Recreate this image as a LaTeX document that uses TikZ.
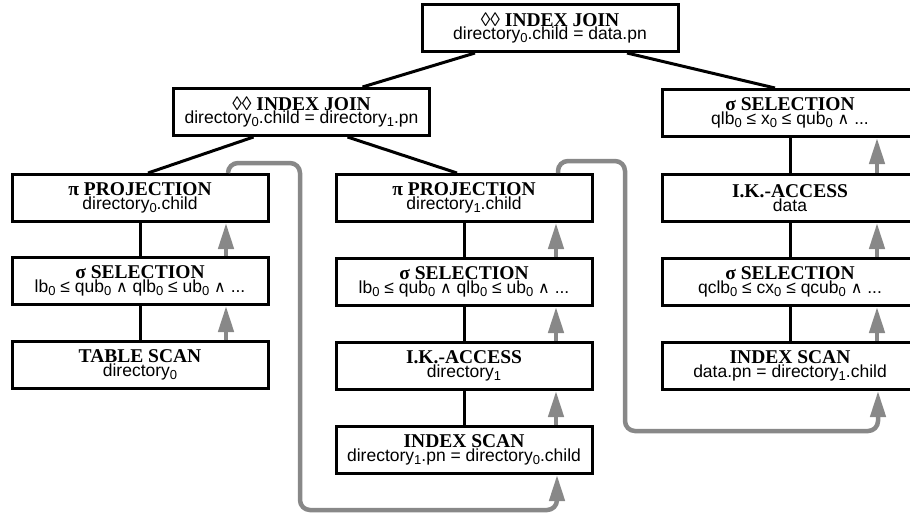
\documentclass[tikz,border=0pt]{standalone}
\usepackage{fontspec}
\setmainfont{Liberation Sans}
\newfontfamily\opfont{Liberation Serif}
\newfontfamily\symfont{DejaVu Sans}
\usetikzlibrary{arrows.meta,calc}

\definecolor{flowgray}{RGB}{136,136,136}

\newcommand{\op}[2]{{\opfont\bfseries\fontsize{19.5}{15.5}\selectfont #1}\\{\fontsize{17.5}{15.5}\selectfont #2}}
\newcommand{\dsub}[1]{\raisebox{-2.5pt}{\fontsize{13}{12}\selectfont #1}}
\newcommand{\lnd}{{\symfont\fontsize{16}{12}\selectfont ∧}}

\tikzset{
  opbox/.style={draw, line width=3pt, fill=white, minimum width=256pt,
    minimum height=47pt, inner sep=0pt, align=center},
  tree/.style={line width=3pt},
  flow/.style={draw=flowgray, line width=4.5pt, rounded corners=10pt,
    -{Triangle[length=26pt,width=15pt]}}
}

\begin{document}
\begin{tikzpicture}[x=1pt,y=-1pt]
          \useasboundingbox (0,0) rectangle (910,512);
          \clip (0,0) rectangle (910,512);

          % Top join
          \node[opbox] (jtop) at (550,28) {\op{◊◊ INDEX JOIN}{directory\dsub{0}.child = data.pn}};

          % Join of the two directory branches
          \node[opbox] (jdir) at (301.5,112) {\op{◊◊ INDEX JOIN}{directory\dsub{0}.child = directory\dsub{1}.pn}};

          % Left branch: directory 0
          \node[opbox] (projL) at (140,198) {\op{π PROJECTION}{directory\dsub{0}.child}};
          \node[opbox] (selL) at (140,281) {\op{σ SELECTION}{lb\dsub{0} ≤ qub\dsub{0} \lnd{} qlb\dsub{0} ≤ ub\dsub{0} \lnd{} ...}};
          \node[opbox] (scanL) at (140,365) {\op{TABLE SCAN}{directory\dsub{0}}};

          % Middle branch: directory 1
          \node[opbox] (projM) at (464,198) {\op{π PROJECTION}{directory\dsub{1}.child}};
          \node[opbox] (selM) at (464,282) {\op{σ SELECTION}{lb\dsub{0} ≤ qub\dsub{0} \lnd{} qlb\dsub{0} ≤ ub\dsub{0} \lnd{} ...}};
          \node[opbox] (accM) at (464,366) {\op{I.K.-ACCESS}{directory\dsub{1}}};
          \node[opbox] (scanM) at (464,450) {\op{INDEX SCAN}{directory\dsub{1}.pn = directory\dsub{0}.child}};

          % Right branch: data
          \node[opbox] (selR) at (790,113) {\op{σ SELECTION}{qlb\dsub{0} ≤ x\dsub{0} ≤ qub\dsub{0} \lnd{} ...}};
          \node[opbox] (accR) at (790,198) {\op{I.K.-ACCESS}{data}};
          \node[opbox] (selcR) at (790,282) {\op{σ SELECTION}{qclb\dsub{0} ≤ cx\dsub{0} ≤ qcub\dsub{0} \lnd{} ...}};
          \node[opbox] (scanR) at (790,366) {\op{INDEX SCAN}{data.pn = directory\dsub{1}.child}};

          % Tree edges
          \draw[tree] ($(jtop.south)+(-75,0)$) -- ($(jdir.north)+(61,0)$);
          \draw[tree] ($(jtop.south)+(77,0)$) -- ($(selR.north)+(-15,0)$);
          \draw[tree] ($(jdir.south)+(-48,0)$) -- ($(projL.north)+(8,0)$);
          \draw[tree] ($(jdir.south)+(46,0)$) -- ($(projM.north)+(-7,0)$);
          \draw[tree] (projL) -- (selL);
          \draw[tree] (selL) -- (scanL);
          \draw[tree] (projM) -- (selM);
          \draw[tree] (selM) -- (accM);
          \draw[tree] (accM) -- (scanM);
          \draw[tree] (selR) -- (accR);
          \draw[tree] (accR) -- (selcR);
          \draw[tree] (selcR) -- (scanR);

          % Data flow inside each branch
          \draw[flow] ($(scanL.north)+(86,0)$) -- ($(selL.south)+(86,0)$);
          \draw[flow] ($(selL.north)+(86,0)$) -- ($(projL.south)+(86,0)$);
          \draw[flow] ($(scanM.north)+(92,0)$) -- ($(accM.south)+(92,0)$);
          \draw[flow] ($(accM.north)+(92,0)$) -- ($(selM.south)+(92,0)$);
          \draw[flow] ($(selM.north)+(92,0)$) -- ($(projM.south)+(92,0)$);
          \draw[flow] ($(scanR.north)+(87,0)$) -- ($(selcR.south)+(87,0)$);
          \draw[flow] ($(selcR.north)+(87,0)$) -- ($(accR.south)+(87,0)$);
          \draw[flow] ($(accR.north)+(87,0)$) -- ($(selR.south)+(87,0)$);

          % Values passed on to the index scans
          \draw[flow] ($(projL.north)+(88,0)$) |- (300,163) |- ($(scanM.south)+(93,35)$) -- ($(scanM.south)+(93,0)$);
          \draw[flow] ($(projM.north)+(94,0)$) |- (625,161) |- ($(scanR.south)+(88,40)$) -- ($(scanR.south)+(88,0)$);

        \end{tikzpicture}
\end{document}
